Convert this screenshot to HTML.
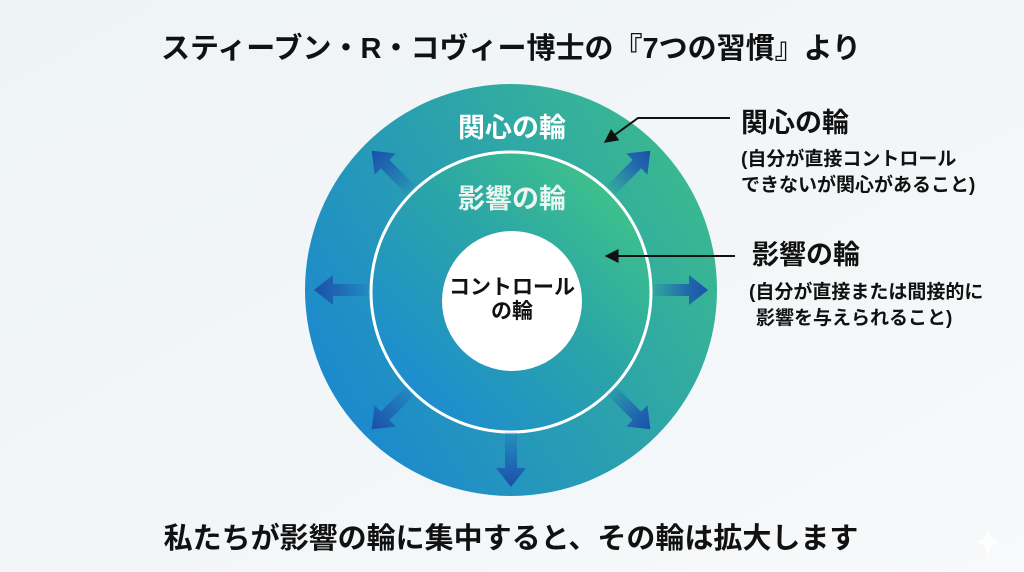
<!DOCTYPE html>
<html><head><meta charset="utf-8"><style>
html,body{margin:0;padding:0;width:1024px;height:572px;overflow:hidden;background:#f3f6f8}
svg{display:block}
text{font-family:"Liberation Sans","Noto Sans CJK JP",sans-serif;font-weight:bold}
</style></head><body>
<svg width="1024" height="572" viewBox="0 0 1024 572">
<defs>
<linearGradient id="bg" x1="0" y1="0" x2="1" y2="1"><stop offset="0" stop-color="#eef3f6"/><stop offset="1" stop-color="#f7f9fa"/></linearGradient>
<linearGradient id="outer" x1="0" y1="0.8" x2="1" y2="0.2"><stop offset="0" stop-color="#1a86d2"/><stop offset="0.5" stop-color="#2a9fb0"/><stop offset="1" stop-color="#3cbc8c"/></linearGradient>
<linearGradient id="inner" x1="0.1" y1="0.9" x2="0.9" y2="0.1"><stop offset="0" stop-color="#1c8ad4"/><stop offset="0.55" stop-color="#2aa4a8"/><stop offset="1" stop-color="#40c488"/></linearGradient>
<linearGradient id="arr" x1="0" y1="0" x2="1" y2="0"><stop offset="0" stop-color="#1f5fb0" stop-opacity="0.1"/><stop offset="0.6" stop-color="#1f5fb0" stop-opacity="0.85"/><stop offset="1" stop-color="#1a4fa8"/></linearGradient>
<marker id="ah" viewBox="0 0 10 10" refX="9" refY="5" markerWidth="7" markerHeight="7" orient="auto"><path d="M0,0 L10,5 L0,10 z" fill="#111"/></marker>
<g id="a"><path d="M142,-6 L178,-6 L178,-15 L197,0 L178,15 L178,6 L142,6 z" fill="url(#arr)"/></g>
</defs>
<rect width="1024" height="572" fill="url(#bg)"/>
<text x="511" y="58" font-size="29" text-anchor="middle" fill="#111">スティーブン・R・コヴィー博士の『7つの習慣』より</text>
<circle cx="511" cy="290" r="206" fill="url(#outer)"/>
<circle cx="511" cy="292" r="140" fill="url(#inner)" stroke="#fff" stroke-width="3"/>
<g transform="translate(511,290)">
<use href="#a"/>
<use href="#a" transform="rotate(45)"/>
<use href="#a" transform="rotate(90)"/>
<use href="#a" transform="rotate(135)"/>
<use href="#a" transform="rotate(180)"/>
<use href="#a" transform="rotate(225)"/>
<use href="#a" transform="rotate(315)"/>
</g>
<circle cx="512" cy="301" r="70" fill="#fff"/>
<text x="512" y="137" font-size="27" text-anchor="middle" fill="#fff">関心の輪</text>
<text x="512" y="208" font-size="27" text-anchor="middle" fill="#eaf6f0">影響の輪</text>
<text x="512" y="294" font-size="21" text-anchor="middle" fill="#111">コントロール</text>
<text x="512" y="318" font-size="21" text-anchor="middle" fill="#111">の輪</text>
<polyline points="730,118 638,118 605,142" fill="none" stroke="#111" stroke-width="2" marker-end="url(#ah)"/>
<line x1="735" y1="256" x2="606" y2="256" stroke="#111" stroke-width="2" marker-end="url(#ah)"/>
<text x="741" y="132" font-size="27" fill="#111">関心の輪</text>
<text x="741" y="165" font-size="19" fill="#111">(自分が直接コントロール</text>
<text x="741" y="191" font-size="19" fill="#111">できないが関心があること)</text>
<text x="752" y="264" font-size="27" fill="#111">影響の輪</text>
<text x="749" y="298" font-size="19" fill="#111">(自分が直接または間接的に</text>
<text x="756" y="324" font-size="19" fill="#111">影響を与えられること)</text>
<text x="511" y="548" font-size="29" text-anchor="middle" fill="#111">私たちが影響の輪に集中すると、その輪は拡大します</text>
<path d="M988,528 Q990,540 1000,542 Q990,544 988,556 Q986,544 976,542 Q986,540 988,528 z" fill="#fff" opacity="0.9"/>
</svg>
</body></html>
